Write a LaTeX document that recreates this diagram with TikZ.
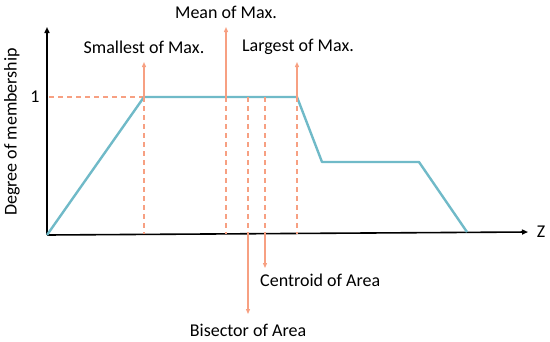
\documentclass[tikz,border=0pt]{standalone}
\usepackage{fontspec}
\setmainfont{Carlito}
\usetikzlibrary{arrows.meta,calc,positioning}
\definecolor{MemTeal}{RGB}{112,186,200}
\definecolor{DefOrange}{RGB}{247,160,130}
\begin{document}
\begin{tikzpicture}[x=1pt,y=-1pt,font=\fontsize{18}{21}\selectfont,
  axisline/.style={black,line width=1.6pt,-{Triangle[length=6pt,width=5pt]}},
  memline/.style={MemTeal,line width=2.4pt,line join=round},
  guide/.style={DefOrange,line width=1.1pt,dash pattern=on 5pt off 4pt},
  pointer/.style={DefOrange,line width=1.1pt,-{Triangle[length=5pt,width=4pt]}},
  lbl/.style={inner sep=0pt}]
\useasboundingbox (0,0) rectangle (550,341);
% axes
\coordinate (O) at (47,235);\coordinate (ytop) at (47,27);\coordinate (xend) at (528,232);
\draw[axisline] (O)--(ytop);\draw[axisline] (O)--(xend);
\node[lbl] (zlbl) at (541,232) {Z};
\node[lbl] (one) at (35,97) {1};
\node[lbl,rotate=90] (ylbl) at (12,132) {Degree of membership};
% membership function
\coordinate (p1) at (144,97);\coordinate (p2) at (297,97);\coordinate (p3) at (322,162);\coordinate (p4) at (419,162);\coordinate (p5) at (467,232);
\draw[guide] (49,97)--(p1);
\draw[memline] (O)--(p1)--(p2)--(p3)--(p4)--(p5);
% defuzzification methods
\coordinate (som) at (144,97);\coordinate (mom) at (226,97);\coordinate (boa) at (248,97);\coordinate (coa) at (265,97);\coordinate (lom) at (297,97);
\foreach \c in {som,mom,boa,coa,lom} \draw[guide] (\c)--($(\c)+(0,137)$);
\node[lbl] (momlbl) at (226,12) {Mean of Max.};
\node[lbl] (somlbl) at (144,47) {Smallest of Max.};
\node[lbl] (lomlbl) at (298,47) {Largest of Max.};
\node[lbl,anchor=west] (coalbl) at (260,280) {Centroid of Area};
\node[lbl] (boalbl) at (248,330) {Bisector of Area};
\coordinate (somtip) at (144,62);\coordinate (momtip) at (226,27);\coordinate (lomtip) at (297,62);
\coordinate (boabase) at (248,234);\coordinate (boatip) at (248,314);\coordinate (coabase) at (265,234);\coordinate (coatip) at (265,268);
\draw[pointer] (som)--(somtip);\draw[pointer] (mom)--(momtip);\draw[pointer] (lom)--(lomtip);
\draw[pointer] (boabase)--(boatip);\draw[pointer] (coabase)--(coatip);
\end{tikzpicture}
\end{document}
